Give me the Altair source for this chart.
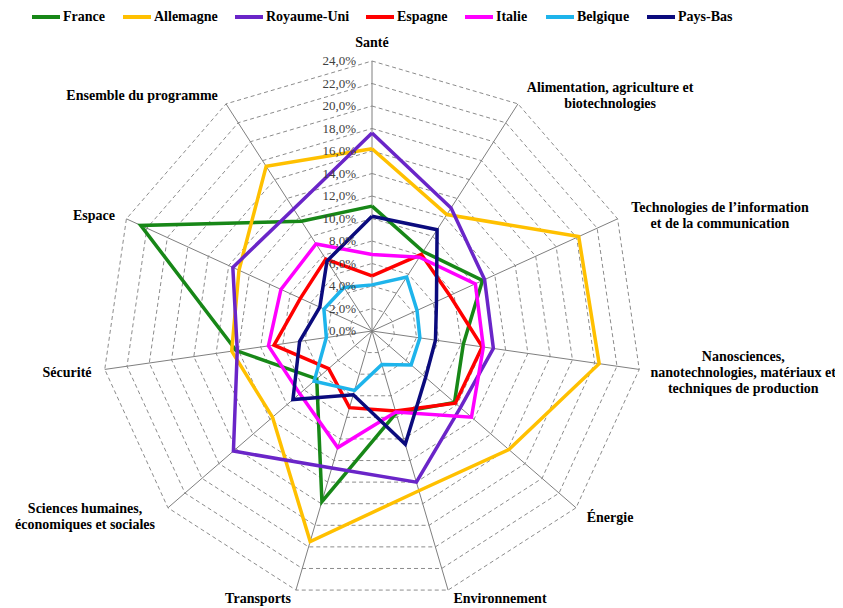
import altair as alt
import pandas as pd

# ---------------- data ----------------
categories = [
    "Santé",
    "Alimentation, agriculture et\nbiotechnologies",
    "Technologies de l’information\net de la communication",
    "Nanosciences,\nnanotechnologies, matériaux et\ntechniques de production",
    "Énergie",
    "Environnement",
    "Transports",
    "Sciences humaines,\néconomiques et sociales",
    "Sécurité",
    "Espace",
    "Ensemble du programme",
]
countries = ["France", "Allemagne", "Royaume-Uni", "Espagne", "Italie", "Belgique", "Pays-Bas"]

france      = [11.1,  8.4, 10.8,  8.2,  9.7,  7.6, 15.8,  6.5, 12.2, 22.6, 11.6]
allemagne   = [16.2, 12.3, 20.2, 20.4, 16.1, 14.8, 19.5, 11.7, 12.6, 13.0, 17.4]
royaume_uni = [17.6, 13.0, 11.0, 10.9, 10.4, 14.0, 12.7, 16.3, 12.1, 13.6, 12.9]
espagne     = [ 4.9,  8.1,  7.6,  9.9,  9.8,  7.4,  7.1,  5.1,  8.8,  7.0,  7.6]
italie      = [ 6.8,  7.8, 10.1, 10.0, 11.7,  7.5, 10.8,  8.5,  9.3,  8.9,  9.2]
belgique    = [ 4.1,  5.7,  4.4,  4.3,  4.6,  3.1,  5.5,  6.8,  4.1,  4.7,  4.6]
pays_bas    = [10.2, 10.7,  6.3,  5.7,  6.3, 10.5,  5.9,  9.3,  6.5,  5.1,  7.4]

tick_values = [0, 2, 4, 6, 8, 10, 12, 14, 16, 18, 20, 22, 24]
tick_labels = ["0,0%", "2,0%", "4,0%", "6,0%", "8,0%", "10,0%", "12,0%",
               "14,0%", "16,0%", "18,0%", "20,0%", "22,0%", "24,0%"]

# ---------------- styling / layout ----------------
series = [france, allemagne, royaume_uni, espagne, italie, belgique, pays_bas]
colors = ["#178717", "#FFC000", "#6A25C8", "#FF0000", "#FF00FF", "#1EB4EB", "#0B0B7D"]

# label anchor positions (in % units of the radial scale)
label_pos = [(0.0, 25.69), (21.16, 21.69), (30.93, 11.02), (33.0, -2.22),
             (21.16, -16.53), (11.38, -23.75), (-10.13, -23.75), (-25.51, -15.73),
             (-27.11, -3.64), (-24.71, 10.31), (-20.44, 20.98)]
# legend entry left edges (pixels inside the view)
legend_x = [24, 115, 227, 358, 457, 538, 639]
LEG_Y, LEG_LEN = 9, 28

N = len(categories)
W, H = 827, 600
PX = 11.25          # pixels per percentage point
CX, CY = 364, 323   # centre inside the view
xdom = [-CX / PX, (W - CX) / PX]
ydom = [-(H - CY) / PX, CY / PX]
xs = alt.Scale(domain=xdom, nice=False, zero=False)
ys = alt.Scale(domain=ydom, nice=False, zero=False)
SERIF = "Liberation Serif"
cscale = alt.Scale(domain=countries, range=colors)

ang_x = f"sin(2*PI*datum.i/{N})"
ang_y = f"cos(2*PI*datum.i/{N})"

# ---------------- tables ----------------
line_rows = []
for c, vals in zip(countries, series):
    for i in range(N + 1):
        line_rows.append({"pays": c, "i": i, "v": vals[i % N]})
lines_df = pd.DataFrame(line_rows)

ring_rows = []
for lev in tick_values[1:]:
    for i in range(N + 1):
        ring_rows.append({"lev": lev, "i": i})
rings_df = pd.DataFrame(ring_rows)

spokes_df = pd.DataFrame({"i": list(range(N)), "lev": [tick_values[-1]] * N})
ticks_df = pd.DataFrame({"lev": tick_values, "lab": tick_labels})
cats_df = pd.DataFrame({"lab": categories,
                        "ux": [p[0] for p in label_pos],
                        "uy": [p[1] for p in label_pos]})
leg_df = pd.DataFrame({"pays": countries, "lx": legend_x})

# ---------------- layers ----------------
rings = alt.Chart(rings_df).transform_calculate(
    x=f"datum.lev*{ang_x}", y=f"datum.lev*{ang_y}"
).mark_line(color="#8c8c8c", strokeWidth=1, strokeDash=[4, 3]).encode(
    x=alt.X("x:Q", scale=xs, axis=None),
    y=alt.Y("y:Q", scale=ys, axis=None),
    detail="lev:N",
    order="i:Q",
)

spokes = alt.Chart(spokes_df).transform_calculate(
    x=f"datum.lev*{ang_x}", y=f"datum.lev*{ang_y}", z="0"
).mark_rule(color="#7f7f7f", strokeWidth=1).encode(
    x=alt.X("z:Q", scale=xs, axis=None),
    y=alt.Y("z:Q", scale=ys, axis=None),
    x2="x:Q",
    y2="y:Q",
)

data_lines = alt.Chart(lines_df).transform_calculate(
    x=f"datum.v*{ang_x}", y=f"datum.v*{ang_y}"
).mark_line(strokeWidth=3.5, strokeJoin="miter").encode(
    x=alt.X("x:Q", scale=xs, axis=None),
    y=alt.Y("y:Q", scale=ys, axis=None),
    color=alt.Color("pays:N", scale=cscale, sort=countries, legend=None),
    order="i:Q",
)

ticks = alt.Chart(ticks_df).transform_calculate(z="0").mark_text(
    align="right", baseline="middle", dx=-16, font=SERIF, fontSize=13, color="#404040"
).encode(
    x=alt.X("z:Q", scale=xs, axis=None),
    y=alt.Y("lev:Q", scale=ys, axis=None),
    text="lab:N",
)

cat_labels = alt.Chart(cats_df).mark_text(
    align="center", baseline="alphabetic", dy=5, lineBreak="\n", lineHeight=16,
    font=SERIF, fontSize=14, fontWeight="bold", color="#000000"
).encode(
    x=alt.X("ux:Q", scale=xs, axis=None),
    y=alt.Y("uy:Q", scale=ys, axis=None),
    text="lab:N",
)

# legend (line samples + labels)
leg_lines = alt.Chart(leg_df).transform_calculate(
    lx2=f"datum.lx + {LEG_LEN}"
).mark_rule(strokeWidth=4).encode(
    x=alt.X("lx:Q", scale=None),
    x2="lx2:Q",
    y=alt.value(LEG_Y),
    color=alt.Color("pays:N", scale=cscale, sort=countries, legend=None),
)
leg_text = alt.Chart(leg_df).transform_calculate(
    tx=f"datum.lx + {LEG_LEN + 3}"
).mark_text(
    align="left", baseline="middle", font=SERIF, fontSize=14, fontWeight="bold", color="#000000"
).encode(
    x=alt.X("tx:Q", scale=None),
    y=alt.value(LEG_Y),
    text="pays:N",
)

chart = alt.layer(rings, spokes, data_lines, ticks, cat_labels, leg_lines, leg_text).properties(
    width=W, height=H, autosize=alt.AutoSizeParams(type="none"), padding=0,
    background="#ffffff",
).configure_view(stroke=None)

chart.save("out.html", embed_options={"renderer": "svg", "actions": False})
